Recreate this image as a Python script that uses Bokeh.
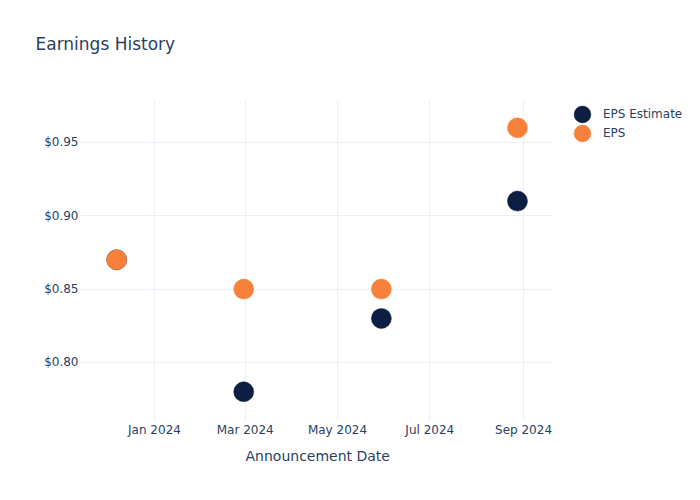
from datetime import datetime
from bokeh.plotting import figure
from bokeh.models import (ColumnDataSource, FixedTicker, DatetimeTickFormatter,
                          NumeralTickFormatter, Range1d, Legend, LegendItem,
                          BoxAnnotation, Title)
from bokeh.embed import file_html
from bokeh.resources import INLINE

# ---- data ----
dates = ["2023-12-07", "2024-02-29", "2024-05-30", "2024-08-28"]
eps_estimate = [0.87, 0.78, 0.83, 0.91]
eps_actual = [0.87, 0.85, 0.85, 0.96]
x_tick_dates = ["2024-01-01", "2024-03-01", "2024-05-01", "2024-07-01", "2024-09-01"]
y_ticks = [0.80, 0.85, 0.90, 0.95]

FONT = "DejaVu Sans"
TXT = "#2a3f5f"
GRID = "#ebf0f8"
NAVY = "#0c1f42"
ORANGE = "#f7813a"

def ms(d):
    return datetime.strptime(d, "%Y-%m-%d").timestamp() * 1000.0

xs = [datetime.strptime(d, "%Y-%m-%d") for d in dates]
src = ColumnDataSource(dict(x=xs, est=eps_estimate, eps=eps_actual))

# plotting area spans to the right edge so the legend can sit inside it
x_start = datetime(2023, 11, 13, 2)
x_frame_end = datetime(2024, 12, 27, 0)

p = figure(width=700, height=500, x_axis_type="datetime", output_backend="svg",
           toolbar_location=None, min_border_left=80, min_border_right=0,
           min_border_top=100, min_border_bottom=80)
p.outline_line_color = None
p.background_fill_color = "white"
p.border_fill_color = "white"

p.x_range = Range1d(x_start, x_frame_end)
p.y_range = Range1d(0.7604, 0.9786)

r_est = p.scatter("x", "est", source=src, size=20, fill_color=NAVY, line_color=NAVY, line_width=0.5)
r_eps = p.scatter("x", "eps", source=src, size=20, fill_color=ORANGE, line_color=ORANGE, line_width=0.5)

# axes
xa = p.xaxis[0]
xa.ticker = FixedTicker(ticks=[ms(d) for d in x_tick_dates])
xa.formatter = DatetimeTickFormatter(days="%b %Y", months="%b %Y", years="%b %Y")
ya = p.yaxis[0]
ya.ticker = FixedTicker(ticks=y_ticks)
ya.formatter = NumeralTickFormatter(format="$0.00")
for ax in (xa, ya):
    ax.axis_line_color = None
    ax.major_tick_line_color = None
    ax.minor_tick_line_color = None
    ax.major_tick_out = 0
    ax.major_tick_in = 0
    ax.major_label_text_font = FONT
    ax.major_label_text_font_size = "12px"
    ax.major_label_text_color = TXT
xa.major_label_standoff = 2
ya.major_label_standoff = 2

p.xgrid.grid_line_color = GRID
p.ygrid.grid_line_color = GRID
p.xgrid.ticker = xa.ticker
p.ygrid.ticker = ya.ticker

# white mask over the legend area (the grid ends at the original x range)
mask = BoxAnnotation(left=473, left_units="screen", fill_color="white", fill_alpha=1.0,
                     line_alpha=0, level="glyph")
p.add_layout(mask)

# x axis title, centred under the original plotting area
x_title = Title(text="Announcement Date", align="left", offset=165, vertical_align="top",
                standoff=16, text_font=FONT, text_font_size="14px",
                text_font_style="normal", text_color=TXT)
p.add_layout(x_title, "below")

# spacer between the plot title and the plotting area
spacer = Title(text=" ", text_font=FONT, text_font_size="12px", standoff=29)
p.add_layout(spacer, "above")

# title
p.title.text = "Earnings History"
p.title.align = "left"
p.title.vertical_align = "top"
p.title.offset = -45
p.title.standoff = 0
p.title.text_font = FONT
p.title.text_font_size = "17px"
p.title.text_font_style = "normal"
p.title.text_color = TXT

# one legend per entry so the rows can sit closer than the swatch box height
def make_legend(label, renderer, vy):
    return Legend(items=[LegendItem(label=label, renderers=[renderer])],
                  location=(481, vy), orientation="vertical",
                  glyph_width=42, glyph_height=42, label_height=42, spacing=0,
                  label_standoff=0, padding=0, margin=0,
                  background_fill_alpha=0, border_line_alpha=0,
                  label_text_font=FONT, label_text_font_size="12px",
                  label_text_color=TXT)

p.add_layout(make_legend("EPS Estimate", r_est, 285), "center")
p.add_layout(make_legend("EPS", r_eps, 266), "center")

open("out.html", "w").write(file_html(p, INLINE))
